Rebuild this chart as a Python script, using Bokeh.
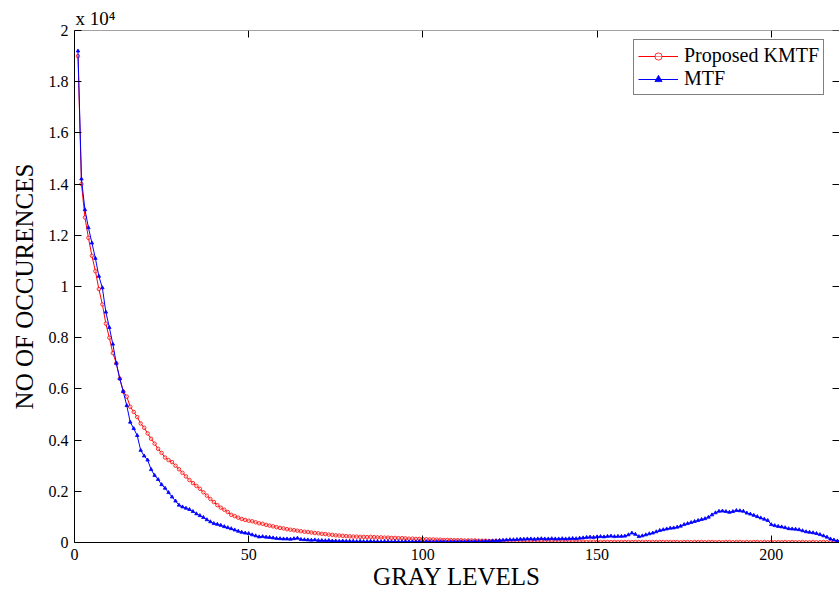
from bokeh.plotting import figure
from bokeh.models import (Range1d, LinearAxis, FixedTicker, CustomJSTickFormatter,
                          Legend, LegendItem, Title, CustomLabelingPolicy)
from bokeh.embed import file_html
from bokeh.resources import INLINE

# Gray levels (x) and histogram counts in units of 10^4
gray_levels = list(range(1, 221))

mtf = [
    1.92, 1.42, 1.30, 1.23, 1.17, 1.11, 1.04, 0.995, 0.90, 0.84,
    0.775, 0.70, 0.64, 0.59, 0.535, 0.47, 0.445, 0.418, 0.36, 0.338,
    0.322, 0.285, 0.262, 0.246, 0.226, 0.212, 0.195, 0.178, 0.162, 0.146,
    0.139, 0.134, 0.129, 0.121, 0.112, 0.105, 0.098, 0.089, 0.081, 0.074,
    0.071, 0.067, 0.062, 0.058, 0.054, 0.049, 0.044, 0.040, 0.037, 0.035,
    0.030, 0.026, 0.022, 0.023, 0.021, 0.020, 0.018, 0.016, 0.015, 0.014,
    0.014, 0.013, 0.015, 0.017, 0.012, 0.011, 0.010, 0.009, 0.010, 0.008,
    0.008, 0.007, 0.008, 0.006, 0.006, 0.005, 0.006, 0.005, 0.005, 0.005,
    0.004, 0.005, 0.004, 0.004, 0.005, 0.004, 0.004, 0.003, 0.004, 0.004,
    0.003, 0.004, 0.003, 0.003, 0.004, 0.003, 0.003, 0.003, 0.004, 0.003,
    0.003, 0.003, 0.002, 0.003, 0.003, 0.003, 0.002, 0.003, 0.003, 0.003,
    0.003, 0.003, 0.004, 0.003, 0.004, 0.004, 0.004, 0.005, 0.005, 0.006,
    0.007, 0.008, 0.009, 0.010, 0.011, 0.011, 0.012, 0.013, 0.013, 0.014,
    0.014, 0.013, 0.014, 0.015, 0.014, 0.014, 0.015, 0.014, 0.014, 0.015,
    0.014, 0.015, 0.016, 0.015, 0.017, 0.018, 0.020, 0.021, 0.020, 0.022,
    0.023, 0.022, 0.024, 0.025, 0.023, 0.024, 0.024, 0.025, 0.030, 0.037,
    0.032, 0.023, 0.026, 0.030, 0.034, 0.037, 0.042, 0.047, 0.050, 0.053,
    0.056, 0.057, 0.060, 0.064, 0.070, 0.074, 0.078, 0.082, 0.086, 0.090,
    0.093, 0.099, 0.108, 0.116, 0.122, 0.123, 0.121, 0.118, 0.121, 0.125,
    0.124, 0.122, 0.115, 0.111, 0.106, 0.101, 0.096, 0.091, 0.086, 0.070,
    0.066, 0.063, 0.061, 0.058, 0.054, 0.053, 0.052, 0.050, 0.046, 0.042,
    0.040, 0.038, 0.035, 0.031, 0.026, 0.021, 0.014, 0.010, 0.006, 0.004,
]

kmtf = [
    1.90, 1.40, 1.27, 1.19, 1.12, 1.06, 0.99, 0.93, 0.855, 0.80,
    0.74, 0.70, 0.64, 0.59, 0.57, 0.53, 0.51, 0.49, 0.465, 0.448,
    0.426, 0.405, 0.386, 0.366, 0.350, 0.332, 0.322, 0.314, 0.300, 0.286,
    0.272, 0.258, 0.244, 0.232, 0.221, 0.210, 0.196, 0.183, 0.170, 0.158,
    0.146, 0.136, 0.128, 0.119, 0.108, 0.103, 0.097, 0.092, 0.088, 0.085,
    0.083, 0.079, 0.075, 0.073, 0.069, 0.066, 0.063, 0.060, 0.057, 0.055,
    0.052, 0.050, 0.048, 0.046, 0.044, 0.042, 0.041, 0.039, 0.037, 0.036,
    0.034, 0.033, 0.031, 0.030, 0.028, 0.027, 0.026, 0.025, 0.024, 0.023,
    0.023, 0.022, 0.022, 0.021, 0.022, 0.021, 0.020, 0.020, 0.019, 0.019,
    0.018, 0.018, 0.017, 0.017, 0.016, 0.015, 0.015, 0.014, 0.014, 0.013,
    0.013, 0.012, 0.012, 0.011, 0.011, 0.010, 0.010, 0.010, 0.009, 0.009,
    0.009, 0.008, 0.008, 0.008, 0.008, 0.007, 0.007, 0.007, 0.006, 0.006,
    0.006, 0.006, 0.005, 0.005, 0.005, 0.005, 0.005, 0.004, 0.004, 0.004,
    0.004, 0.004, 0.004, 0.004, 0.003, 0.003, 0.004, 0.003, 0.003, 0.003,
    0.003, 0.003, 0.003, 0.003, 0.003, 0.003, 0.002, 0.003, 0.003, 0.002,
    0.002, 0.002, 0.002, 0.002, 0.002, 0.002, 0.002, 0.002, 0.002, 0.002,
    0.002, 0.002, 0.002, 0.002, 0.002, 0.002, 0.002, 0.002, 0.002, 0.002,
    0.002, 0.002, 0.002, 0.001, 0.002, 0.002, 0.001, 0.002, 0.002, 0.002,
    0.001, 0.002, 0.002, 0.001, 0.002, 0.001, 0.002, 0.002, 0.001, 0.002,
    0.002, 0.001, 0.002, 0.001, 0.002, 0.002, 0.001, 0.002, 0.001, 0.002,
    0.001, 0.002, 0.001, 0.002, 0.001, 0.002, 0.001, 0.001, 0.002, 0.001,
    0.001, 0.002, 0.001, 0.001, 0.002, 0.001, 0.001, 0.001, 0.002, 0.001,
]

x_ticks = [0, 50, 100, 150, 200]
y_ticks = [0, 0.2, 0.4, 0.6, 0.8, 1.0, 1.2, 1.4, 1.6, 1.8, 2.0]
series_names = ["Proposed KMTF", "MTF"]
exponent_text = "x 10\u2074"

FONT = "Liberation Serif"
X_END = 219.6
Y_END = 2.0

p = figure(width=839, height=594, output_backend="svg", toolbar_location=None,
           x_range=Range1d(0, X_END), y_range=Range1d(0, Y_END),
           min_border_left=74, min_border_right=0, min_border_top=30,
           min_border_bottom=52)
p.grid.visible = False
p.outline_line_color = None
p.background_fill_color = "white"
p.border_fill_color = "white"

r_red = p.line(gray_levels, kmtf, line_color="#ff0000", line_width=1)
s_red = p.scatter(gray_levels, kmtf, marker="circle", size=3.5, line_color="#ff0000",
                  fill_color="white", fill_alpha=0.5, line_width=0.8)
r_blue = p.line(gray_levels, mtf, line_color="#0000ff", line_width=1)
s_blue = p.scatter(gray_levels, mtf, marker="triangle", size=3.5, line_color="#0000ff",
                   fill_color="#0000ff", line_width=0.8)

def style_axis(ax):
    ax.major_tick_in = 7
    ax.major_tick_out = 0
    ax.minor_tick_line_color = None
    ax.axis_line_color = "black"
    ax.major_tick_line_color = "black"
    ax.major_label_text_font = FONT
    ax.major_label_text_font_size = "16px"
    ax.major_label_text_color = "black"
    ax.axis_label_text_font = FONT
    ax.axis_label_text_font_style = "normal"
    ax.axis_label_text_color = "black"

no_labels = "for (const i of indices) { indices.unset(i) }; return indices"

xa = p.xaxis[0]
style_axis(xa)
xa.ticker = FixedTicker(ticks=x_ticks)
xa.major_label_standoff = 6
xa.axis_label = "GRAY LEVELS"
xa.axis_label_text_font_size = "25px"
xa.axis_label_standoff = 0

ya = p.yaxis[0]
style_axis(ya)
ya.ticker = FixedTicker(ticks=y_ticks)
ya.formatter = CustomJSTickFormatter(code="return String(Math.round(tick*10)/10);")
ya.major_label_standoff = 6
ya.axis_label = "NO OF OCCURENCES"
ya.axis_label_text_font_size = "25px"
ya.axis_label_standoff = 8

top = LinearAxis(ticker=FixedTicker(ticks=x_ticks), fixed_location=Y_END)
style_axis(top)
top.major_label_policy = CustomLabelingPolicy(code=no_labels)
top.major_label_standoff = 0
top.axis_line_color = "#444444"
p.add_layout(top, "above")

right = LinearAxis(ticker=FixedTicker(ticks=y_ticks), fixed_location=X_END)
style_axis(right)
right.major_label_policy = CustomLabelingPolicy(code=no_labels)
right.major_label_standoff = 0
right.axis_line_color = None
p.add_layout(right, "right")

p.add_layout(Title(text=exponent_text, align="left", offset=1, text_font=FONT,
                   text_font_size="19px", text_font_style="normal", text_color="black",
                   standoff=3), "above")

legend = Legend(items=[LegendItem(label=series_names[0], renderers=[r_red, s_red]),
                       LegendItem(label=series_names[1], renderers=[r_blue, s_blue])],
                location=(559, 447), label_text_font=FONT, label_text_font_size="20px",
                label_text_color="black", glyph_width=40, glyph_height=18,
                label_height=18, spacing=0, padding=4, margin=0, label_standoff=6,
                border_line_color="black", border_line_width=1,
                background_fill_color="white", background_fill_alpha=1)
p.add_layout(legend)

open("out.html", "w").write(file_html(p, INLINE))
